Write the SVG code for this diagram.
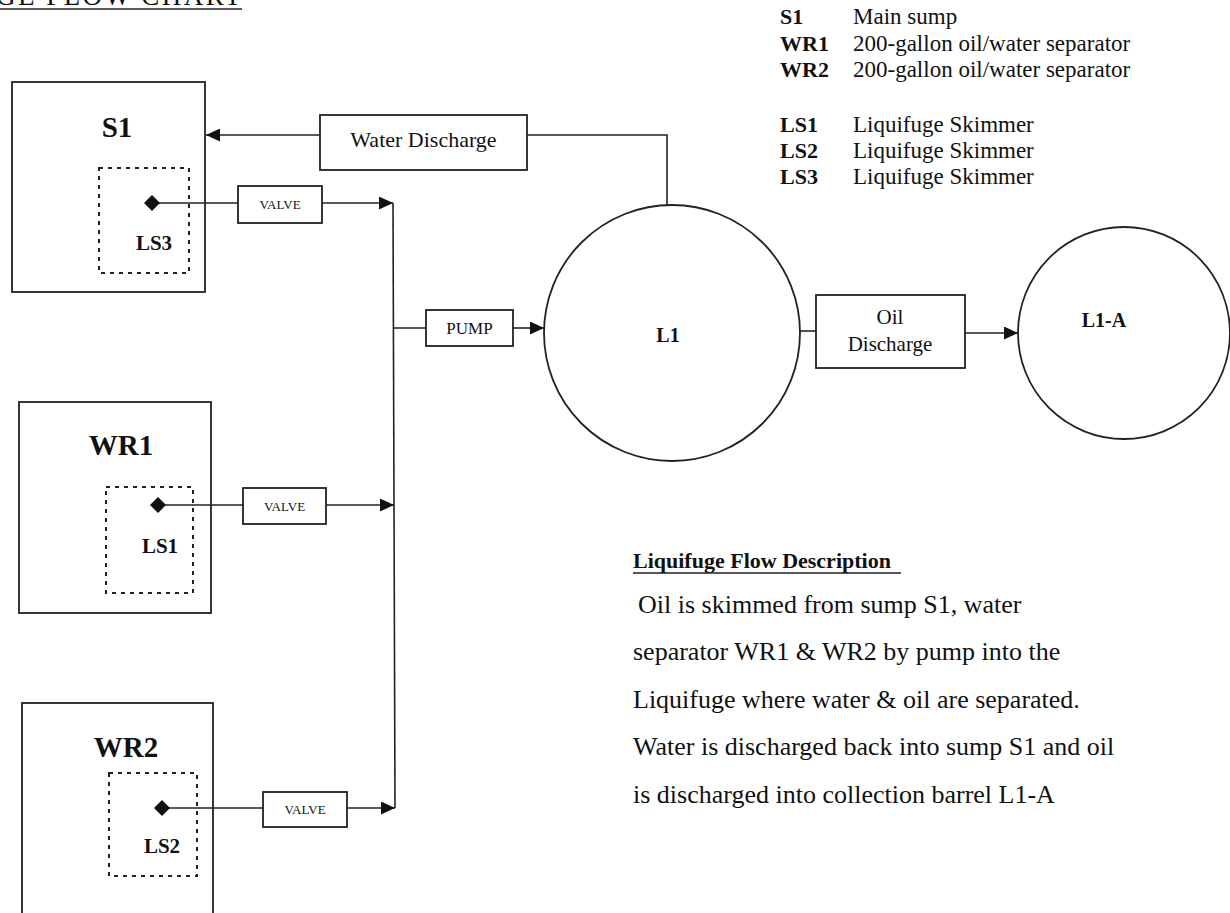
<svg xmlns="http://www.w3.org/2000/svg" width="1230" height="913" viewBox="0 0 1230 913">
<defs>
<marker id="arr" markerUnits="userSpaceOnUse" markerWidth="15" markerHeight="13" refX="14" refY="6.5" orient="auto">
<path d="M0,0 L14,6.5 L0,13 z" fill="#111"/>
</marker>
<marker id="dia" markerUnits="userSpaceOnUse" markerWidth="16" markerHeight="16" refX="8" refY="8" orient="auto">
<path d="M0,8 L8,0 L16,8 L8,16 z" fill="#111"/>
</marker>
</defs>
<style>
.box{fill:none;stroke:#222;stroke-width:1.8}
.dot{fill:none;stroke:#222;stroke-width:2;stroke-dasharray:4 5}
.ln{fill:none;stroke:#222;stroke-width:1.6}
.t{font-family:"Liberation Serif",serif;fill:#111}
.b{font-weight:bold}
.c{text-anchor:middle}
</style>
<rect width="1230" height="913" fill="#fff"/>

<g id="title">
<text class="t" x="-4" y="5" font-size="27" textLength="245" lengthAdjust="spacing">GE FLOW CHART</text>
<line class="ln" x1="0" y1="9" x2="242" y2="9"/>
</g>

<g id="legend" class="t" font-size="23">
<text class="t b" x="780" y="24" font-size="22">S1</text><text class="t" x="853" y="24">Main sump</text>
<text class="t b" x="780" y="51" font-size="22">WR1</text><text class="t" x="853" y="51">200-gallon oil/water separator</text>
<text class="t b" x="780" y="77" font-size="22">WR2</text><text class="t" x="853" y="77">200-gallon oil/water separator</text>
<text class="t b" x="780" y="132" font-size="22">LS1</text><text class="t" x="853" y="132">Liquifuge Skimmer</text>
<text class="t b" x="780" y="158" font-size="22">LS2</text><text class="t" x="853" y="158">Liquifuge Skimmer</text>
<text class="t b" x="780" y="184" font-size="22">LS3</text><text class="t" x="853" y="184">Liquifuge Skimmer</text>
</g>

<g id="S1">
<rect class="box" x="12" y="82" width="193" height="210"/>
<text class="t b c" x="117" y="137" font-size="29">S1</text>
</g>
<g id="LS3">
<rect class="dot" x="99" y="168" width="90" height="105"/>
<text class="t b c" x="154" y="250" font-size="21">LS3</text>
</g>
<g id="WR1">
<rect class="box" x="19" y="402" width="192" height="211"/>
<text class="t b c" x="121" y="455" font-size="29">WR1</text>
</g>
<g id="LS1">
<rect class="dot" x="106" y="487" width="87" height="106"/>
<text class="t b c" x="160" y="553" font-size="21">LS1</text>
</g>
<g id="WR2">
<rect class="box" x="22" y="703" width="191" height="214"/>
<text class="t b c" x="126" y="757" font-size="29">WR2</text>
</g>
<g id="LS2">
<rect class="dot" x="109" y="773" width="88" height="103"/>
<text class="t b c" x="162" y="853" font-size="21">LS2</text>
</g>

<g id="valve1">
<rect class="box" x="238" y="186" width="84" height="37"/>
<text class="t c" x="280" y="209" font-size="13" fill="#333">VALVE</text>
</g>
<g id="valve2">
<rect class="box" x="243" y="488" width="83" height="36"/>
<text class="t c" x="284.5" y="511" font-size="13" fill="#333">VALVE</text>
</g>
<g id="valve3">
<rect class="box" x="263" y="792" width="84" height="35"/>
<text class="t c" x="305" y="814" font-size="13" fill="#333">VALVE</text>
</g>

<g id="pump">
<rect class="box" x="426" y="310" width="87" height="36"/>
<text class="t c" x="469.5" y="334" font-size="17">PUMP</text>
</g>

<g id="water-discharge">
<rect class="box" x="320" y="115" width="207" height="55"/>
<text class="t c" x="423.5" y="147" font-size="22">Water Discharge</text>
</g>

<g id="L1">
<circle class="box" cx="672" cy="333" r="128"/>
<text class="t b c" x="668" y="342" font-size="20">L1</text>
</g>

<g id="oil-discharge">
<rect class="box" x="816" y="295" width="149" height="73"/>
<text class="t c" x="890" y="324" font-size="21">Oil</text>
<text class="t c" x="890" y="351" font-size="21">Discharge</text>
</g>

<g id="L1-A">
<circle class="box" cx="1124" cy="333" r="106"/>
<text class="t b c" x="1104" y="327" font-size="20">L1-A</text>
</g>

<g id="connectors">
<line class="ln" x1="152" y1="203" x2="238" y2="203" marker-start="url(#dia)"/>
<line class="ln" x1="322" y1="203" x2="393" y2="203" marker-end="url(#arr)"/>
<line class="ln" x1="158" y1="505" x2="243" y2="505" marker-start="url(#dia)"/>
<line class="ln" x1="326" y1="505" x2="394" y2="505" marker-end="url(#arr)"/>
<line class="ln" x1="162" y1="808" x2="263" y2="808" marker-start="url(#dia)"/>
<line class="ln" x1="347" y1="808" x2="395" y2="808" marker-end="url(#arr)"/>
<line class="ln" x1="393" y1="203" x2="395" y2="808"/>
<line class="ln" x1="393" y1="328" x2="426" y2="328"/>
<line class="ln" x1="513" y1="328" x2="544" y2="328" marker-end="url(#arr)"/>
<path class="ln" d="M667,206 L667,135 L527,135"/>
<line class="ln" x1="320" y1="135" x2="206" y2="135" marker-end="url(#arr)"/>
<line class="ln" x1="800" y1="331" x2="816" y2="331"/>
<line class="ln" x1="965" y1="333" x2="1018" y2="333" marker-end="url(#arr)"/>
</g>

<g id="description">
<text class="t b" x="633" y="568" font-size="22">Liquifuge Flow Description</text>
<line class="ln" x1="633" y1="573" x2="901" y2="573"/>
<text class="t" x="638" y="613" font-size="26">Oil is skimmed from sump S1, water</text>
<text class="t" x="633" y="660" font-size="26">separator WR1 &amp; WR2 by pump into the</text>
<text class="t" x="633" y="708" font-size="26">Liquifuge where water &amp; oil are separated.</text>
<text class="t" x="633" y="755" font-size="26">Water is discharged back into sump S1 and oil</text>
<text class="t" x="633" y="803" font-size="26">is discharged into collection barrel L1-A</text>
</g>
</svg>
